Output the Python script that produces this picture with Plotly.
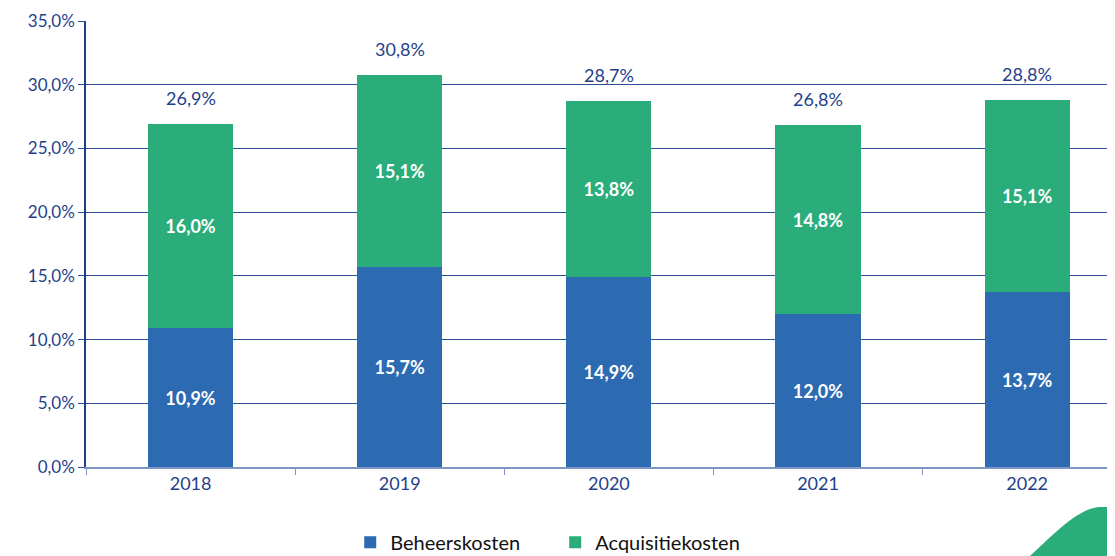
import plotly.graph_objects as go

years = ['2018', '2019', '2020', '2021', '2022']
beheerskosten = [10.9, 15.7, 14.9, 12.0, 13.7]
acquisitiekosten = [16.0, 15.1, 13.8, 14.8, 15.1]
totaal = [26.9, 30.8, 28.7, 26.8, 28.8]

blue = '#2c6ab2'
green = '#2aad7a'
navy = '#1f3f8a'
font = 'Lato, Open Sans, sans-serif'

# page body has an 8px margin, so the figure is a little smaller
W, H = 1107, 548
L, T, B = 86, 21, 89  # target plot edges in window pixels


def px(x, y):
    # window pixel -> paper coords
    return (x - L) / (1115 - L), (467 - y) / (467 - T)


fig = go.Figure()
fig.add_trace(go.Bar(
    x=years, y=beheerskosten, name='Beheerskosten',
    marker=dict(color=blue, line=dict(width=0)),
    texttemplate='%{y:.1f}%', textposition='inside', insidetextanchor='middle',
    textfont=dict(color='white', size=18, family=font, weight='bold'),
))
fig.add_trace(go.Bar(
    x=years, y=acquisitiekosten, name='Acquisitiekosten',
    marker=dict(color=green, line=dict(width=0)),
    texttemplate='%{y:.1f}%', textposition='inside', insidetextanchor='middle',
    textfont=dict(color='white', size=18, family=font, weight='bold'),
))

for i, tot in enumerate(totaal):
    fig.add_annotation(
        x=i, y=tot, xref='x', yref='y', text=f'{tot:.1f}%'.replace('.', ','),
        showarrow=False, yshift=26, font=dict(color=navy, size=18, family=font),
    )

# decorative swoosh bottom right
pts = [px(1030, 556), px(1060, 528), px(1080, 508), px(1100, 507), px(1115, 507), px(1115, 556)]
path = 'M {0},{1} C {2},{3} {4},{5} {6},{7} L {8},{9} L {10},{11} Z'.format(*[c for p in pts for c in p])
fig.add_shape(type='path', path=path, xref='paper', yref='paper',
              fillcolor=green, line=dict(width=0), layer='below')

fig.update_layout(
    barmode='stack',
    bargap=0.593,
    width=W, height=H,
    margin=dict(l=L - 8, r=0, t=T - 8, b=B, autoexpand=False),
    plot_bgcolor='white', paper_bgcolor='rgba(0,0,0,0)',
    separators=',.',
    font=dict(family=font, color=navy, size=17),
    showlegend=True,
    legend=dict(orientation='h', x=0.456, xanchor='center', y=-0.125, yanchor='top',
                font=dict(color='#111111', size=20, family=font),
                traceorder='normal', itemwidth=30, entrywidth=160),
    xaxis=dict(
        type='category',
        range=[-0.5, 4.42], showgrid=False, showline=True, linecolor='#7f96c4', linewidth=1.5,
        ticks='outside', tickson='boundaries', ticklen=6, tickcolor='#7f96c4',
        tickfont=dict(size=18, color=navy, family=font),
    ),
    yaxis=dict(
        range=[0, 35], dtick=5, tickformat='.1f', ticksuffix='%',
        showgrid=True, gridcolor='#2b4f96', gridwidth=1,
        showline=True, linecolor=navy, linewidth=1.5,
        ticks='outside', ticklen=6, tickcolor='#2b4f96',
        tickfont=dict(size=17, color=navy, family=font),
        zeroline=False,
    ),
)

fig.write_html('out.html')
